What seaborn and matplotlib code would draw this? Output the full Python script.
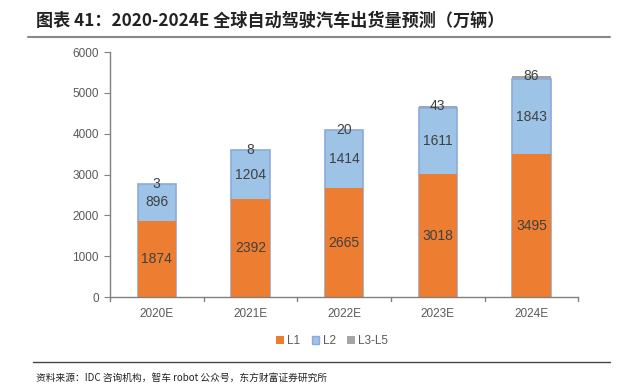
import matplotlib
matplotlib.use("Agg")
import matplotlib.pyplot as plt
import seaborn as sns
import pandas as pd
from matplotlib.patches import Patch
from matplotlib.lines import Line2D

years = ["2020E", "2021E", "2022E", "2023E", "2024E"]
l1 = [1874, 2392, 2665, 3018, 3495]
l2 = [896, 1204, 1414, 1611, 1843]
l35 = [3, 8, 20, 43, 86]
series_names = ["L1", "L2", "L3-L5"]

c_l1 = "#ED7D31"
c_l2 = "#9DC3E6"
c_l35 = "#A5A5A5"
txt = "#404040"

sns.set_style("white")
plt.rcParams["font.family"] = ["Liberation Sans", "Noto Sans CJK SC", "DejaVu Sans"]

df = pd.DataFrame({"year": years, "L1": l1, "L2": l2, "L35": l35})
df["top2"] = df["L1"] + df["L2"]
df["top3"] = df["top2"] + df["L35"]

fig = plt.figure(figsize=(6.39, 3.91), dpi=100)
ax = fig.add_axes([0.172, 0.240, 0.733, 0.627])

w = 0.41
sns.barplot(data=df, x="year", y="top3", color=c_l35, width=w, ax=ax,
            saturation=1, linewidth=0)
sns.barplot(data=df, x="year", y="top2", color=c_l2, width=w, ax=ax,
            saturation=1, edgecolor="#8EAADB", linewidth=1.2)
sns.barplot(data=df, x="year", y="L1", color=c_l1, width=w, ax=ax,
            saturation=1, linewidth=0)

for i in range(len(years)):
    ax.text(i, l1[i] / 2, f"{l1[i]}", ha="center", va="center", fontsize=10, color=txt)
    ax.text(i, l1[i] + l2[i] / 2, f"{l2[i]}", ha="center", va="center", fontsize=10, color=txt)
    ax.text(i, l1[i] + l2[i] + l35[i], f"{l35[i]}", ha="center", va="center", fontsize=10, color=txt)

ax.set_ylim(0, 6000)
ax.set_yticks(range(0, 6001, 1000))
ax.set_xlim(-0.5, len(years) - 0.5)
ax.set_xlabel("")
ax.set_ylabel("")
for s in ["top", "right"]:
    ax.spines[s].set_visible(False)
for s in ["left", "bottom"]:
    ax.spines[s].set_color("#808080")
    ax.spines[s].set_linewidth(1)
ax.tick_params(axis="y", direction="out", length=4, color="#808080", labelsize=8.5,
               labelcolor="#595959", left=True, pad=4)
ax.tick_params(axis="x", length=0, labelsize=8.5, labelcolor="#595959", pad=8)
# category boundary ticks on x axis
for b in [i + 0.5 for i in range(-1, len(years))]:
    ax.add_line(Line2D([b, b], [0, -100], color="#808080", lw=1, clip_on=False))

handles = [Patch(facecolor=c_l1, edgecolor="none"),
           Patch(facecolor=c_l2, edgecolor="#8EAADB"),
           Patch(facecolor=c_l35, edgecolor="none")]
fig.legend(handles, series_names, loc="center", bbox_to_anchor=(0.52, 0.128), ncol=3,
           frameon=False, fontsize=8.5, handlelength=0.6, handleheight=0.6,
           handletextpad=0.3, columnspacing=1.0, labelcolor="#595959")

fig.text(0.056, 0.948, "图表 41：2020-2024E 全球自动驾驶汽车出货量预测（万辆）",
         fontsize=12.3, fontweight="bold", color="#222222", va="center",
         family=["Noto Sans CJK SC", "DejaVu Sans"])
fig.add_artist(Line2D([0.044, 0.955], [0.905, 0.905], color="#888888", lw=1.5))
fig.add_artist(Line2D([0.052, 0.955], [0.074, 0.074], color="#444444", lw=1))
fig.text(0.056, 0.033, "资料来源：IDC 咨询机构，智车 robot 公众号，东方财富证券研究所",
         fontsize=7, color="#222222", va="center",
         family=["Noto Sans CJK SC", "DejaVu Sans"])

fig.savefig("out.png", dpi=100)
plt.close(fig)
